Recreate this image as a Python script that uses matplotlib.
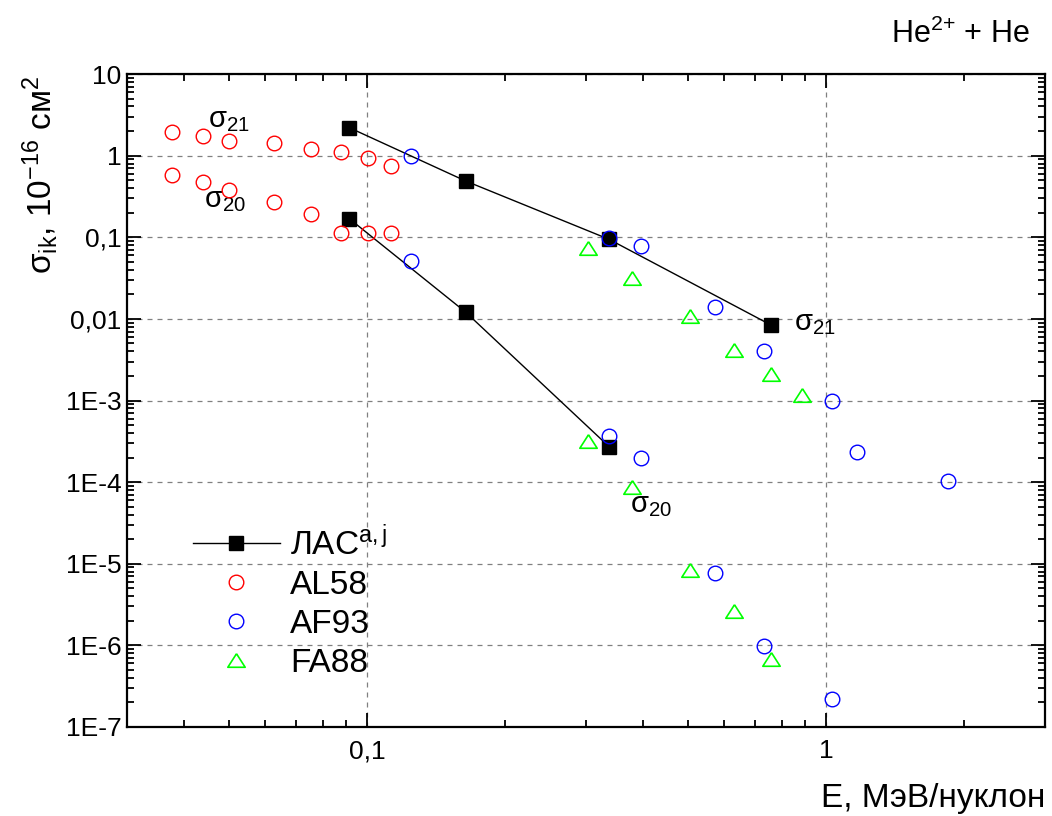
import matplotlib
matplotlib.use("Agg")
import matplotlib.pyplot as plt
import numpy as np

plt.rcParams['font.family'] = ['Liberation Sans', 'DejaVu Sans']
plt.rcParams['mathtext.fontset'] = 'custom'
plt.rcParams['mathtext.rm'] = 'Liberation Sans'
plt.rcParams['mathtext.it'] = 'Liberation Sans'
plt.rcParams['mathtext.bf'] = 'Liberation Sans:bold'
plt.rcParams['axes.unicode_minus'] = False

# ЛАС (present work) σ21 and σ20
las21_E = [0.0915, 0.164, 0.337, 0.759]
las21_s = [2.20, 0.489, 0.0942, 0.0084]
las20_E = [0.0915, 0.164, 0.337]
las20_s = [0.169, 0.0121, 2.71e-4]

# AL58 (red circles)
al58_E = [0.0376, 0.0439, 0.050, 0.0627, 0.0755, 0.0878, 0.1005, 0.1128,
          0.0376, 0.0439, 0.050, 0.0627, 0.0755, 0.0878, 0.1005, 0.1128]
al58_s = [1.95, 1.74, 1.51, 1.43, 1.20, 1.11, 0.93, 0.75,
          0.578, 0.475, 0.379, 0.27, 0.192, 0.112, 0.112, 0.112]

# AF93 (blue circles)
af93_E = [0.1247, 0.337, 0.396, 0.573, 0.733, 1.032, 1.166, 1.84,
          0.1247, 0.337, 0.396, 0.573, 0.733, 1.032]
af93_s = [0.99, 0.097, 0.0774, 0.01407, 0.00406, 9.8e-4, 2.31e-4, 1.02e-4,
          0.0511, 3.66e-4, 1.99e-4, 7.6e-6, 9.9e-7, 2.23e-7]

# FA88 (green triangles)
fa88_E = [0.303, 0.378, 0.505, 0.631, 0.758, 0.888,
          0.303, 0.378, 0.505, 0.631, 0.758]
fa88_s = [0.0731, 0.0313, 0.0109, 0.00415, 0.00211, 0.00116,
          3.21e-4, 8.6e-5, 8.5e-6, 2.62e-6, 6.8e-7]

ytick_vals = [10, 1, 0.1, 0.01, 1e-3, 1e-4, 1e-5, 1e-6, 1e-7]
ytick_labels = ['10', '1', '0,1', '0,01', '1E-3', '1E-4', '1E-5', '1E-6', '1E-7']
xtick_vals = [0.1, 1]
xtick_labels = ['0,1', '1']

fig = plt.figure(figsize=(10.52, 8.16), dpi=100)
ax = fig.add_axes([127/1052, 1-727/816, (1045-127)/1052, (727-74)/816])
ax.set_xscale('log')
ax.set_yscale('log')
ax.set_xlim(0.03, 3)
ax.set_ylim(1e-7, 10)

tri = [(0, 0.78), (-1, -0.78), (1, -0.78), (0, 0.78)]

ax.plot(las21_E, las21_s, color='black', lw=1.0, marker='s', ms=9.5,
        mfc='black', mec='black', zorder=3, label='ЛАС$^{a,j}$')
ax.plot(las20_E, las20_s, color='black', lw=1.0, marker='s', ms=9.5,
        mfc='black', mec='black', zorder=3)
ax.plot(al58_E, al58_s, ls='none', marker='o', ms=10.5, mfc='none',
        mec='#ff0000', mew=1.0, zorder=4, label='AL58')
ax.plot(af93_E, af93_s, ls='none', marker='o', ms=10.5, mfc='none',
        mec='#0000ff', mew=1.0, zorder=4, label='AF93')
ax.plot(fa88_E, fa88_s, ls='none', marker=tri, ms=12.5, mfc='none',
        mec='#00ff00', mew=1.2, zorder=4, label='FA88')

ax.set_yticks(ytick_vals, ytick_labels)
ax.set_xticks(xtick_vals, xtick_labels)
ax.xaxis.set_minor_formatter(matplotlib.ticker.NullFormatter())
ax.yaxis.set_minor_locator(matplotlib.ticker.LogLocator(base=10, subs=np.arange(2, 10), numticks=20))
ax.yaxis.set_minor_formatter(matplotlib.ticker.NullFormatter())
ax.tick_params(which='both', direction='in', top=True, right=True,
               labelsize=19, width=1.3)
ax.tick_params(which='major', length=10)
ax.tick_params(which='minor', length=5)
ax.tick_params(axis='y', which='major', pad=4)
ax.tick_params(axis='x', which='major', pad=9)
for s in ax.spines.values():
    s.set_linewidth(1.6)

ax.grid(True, which='major', color='#808080', ls=(0, (4, 4)), lw=0.9)

ax.text(0.984, 1.036, '$\\mathrm{He}^{2{+}}$ + He', transform=ax.transAxes,
        fontsize=22, ha='right', va='bottom')
ax.text(1.0, -0.085, 'E, МэВ/нуклон', transform=ax.transAxes,
        fontsize=24, ha='right', va='top')
fig.text(40/1052, 1-175/816, 'σ$_{ik}$, 10$^{-16}$ см$^{2}$', rotation=90,
         fontsize=24, ha='center', va='center')

ax.text(0.045, 2.7, 'σ$_{21}$', fontsize=21, ha='left', va='center')
ax.text(0.0442, 0.29, 'σ$_{20}$', fontsize=21, ha='left', va='center')
ax.text(0.85, 0.0088, 'σ$_{21}$', fontsize=21, ha='left', va='center')
ax.text(0.375, 5.2e-5, 'σ$_{20}$', fontsize=21, ha='left', va='center')

leg = ax.legend(loc='upper left', bbox_to_anchor=(0.072, 0.308), frameon=False,
                fontsize=24, handlelength=2.6, handletextpad=0.3,
                labelspacing=0.24, borderpad=0, borderaxespad=0)

fig.savefig('out.png', dpi=100)
